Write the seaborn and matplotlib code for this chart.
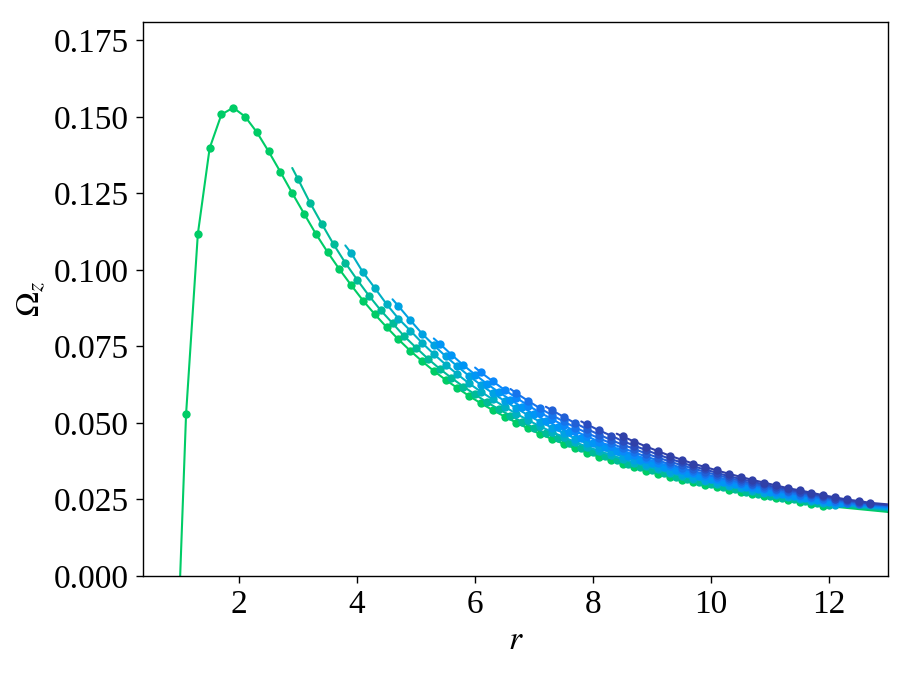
import numpy as np
import pandas as pd
import matplotlib
matplotlib.use("Agg")
import matplotlib.pyplot as plt
from matplotlib.ticker import FormatStrFormatter
import seaborn as sns

# ---------------- data ----------------
curve_names = ["c1", "c2", "c3", "c4", "c5", "c6", "c7", "c8", "c9", "c10"]
r_start = [1.0, 2.9, 3.8, 4.6, 5.3, 6.0, 6.6, 7.2, 7.8, 8.4]
omega_start = [0.0, 0.1333, 0.1080, 0.0904, 0.0776, 0.0681, 0.0611, 0.0553, 0.0505, 0.0465]
r_first = [1.1, 3.0, 3.9, 4.7, 5.4, 6.1, 6.7, 7.3, 7.9, 8.5]
dr = 0.2
r_end = 13.6
omega_end = [0.0198, 0.0203, 0.0206, 0.0208, 0.0211, 0.0215, 0.0217, 0.0220, 0.0222, 0.0224]

omega_c1 = [0.0528, 0.1118, 0.1398, 0.1508, 0.1530, 0.1501, 0.1450, 0.1387, 0.1320, 0.1251,
            0.1184, 0.1118, 0.1058, 0.1002, 0.0950, 0.0900, 0.0855, 0.0813, 0.0773, 0.0736,
            0.0702, 0.0670, 0.0641, 0.0614, 0.0588, 0.0564, 0.0542, 0.0521, 0.0501, 0.0482,
            0.0464, 0.0448, 0.0432, 0.0417, 0.0403, 0.0390, 0.0378, 0.0366, 0.0355, 0.0344,
            0.0334, 0.0324, 0.0315, 0.0306, 0.0298, 0.0290, 0.0282, 0.0275, 0.0268, 0.0261,
            0.0254, 0.0248, 0.0242, 0.0236, 0.0230]
omega_c2 = [0.1296, 0.1220, 0.1151, 0.1084, 0.1023, 0.0968, 0.0916, 0.0868, 0.0826, 0.0783,
            0.0746, 0.0710, 0.0677, 0.0647, 0.0619, 0.0593, 0.0568, 0.0545, 0.0524, 0.0503,
            0.0484, 0.0466, 0.0450, 0.0433, 0.0419, 0.0404, 0.0392, 0.0379, 0.0367, 0.0356,
            0.0345, 0.0335, 0.0325, 0.0316, 0.0308, 0.0300, 0.0291, 0.0283, 0.0276, 0.0269,
            0.0262, 0.0256, 0.0250, 0.0244, 0.0238, 0.0232]
omega_c3 = [0.1055, 0.0992, 0.0941, 0.0888, 0.0841, 0.0802, 0.0762, 0.0725, 0.0691, 0.0659,
            0.0629, 0.0602, 0.0577, 0.0553, 0.0530, 0.0509, 0.0489, 0.0471, 0.0454, 0.0437,
            0.0422, 0.0408, 0.0395, 0.0382, 0.0370, 0.0358, 0.0348, 0.0337, 0.0327, 0.0318,
            0.0310, 0.0301, 0.0293, 0.0286, 0.0278, 0.0271, 0.0264, 0.0257, 0.0251, 0.0245,
            0.0239, 0.0233]
omega_c4 = [0.0882, 0.0836, 0.0792, 0.0754, 0.0718, 0.0685, 0.0653, 0.0624, 0.0597, 0.0572,
            0.0548, 0.0525, 0.0504, 0.0485, 0.0467, 0.0449, 0.0433, 0.0418, 0.0404, 0.0391,
            0.0379, 0.0366, 0.0355, 0.0344, 0.0334, 0.0324, 0.0315, 0.0307, 0.0298, 0.0290,
            0.0283, 0.0276, 0.0268, 0.0262, 0.0255, 0.0249, 0.0243, 0.0236]
omega_c5 = [0.0759, 0.0723, 0.0689, 0.0658, 0.0628, 0.0601, 0.0576, 0.0551, 0.0529, 0.0508,
            0.0488, 0.0469, 0.0452, 0.0435, 0.0421, 0.0407, 0.0393, 0.0380, 0.0368, 0.0356,
            0.0345, 0.0335, 0.0326, 0.0316, 0.0307, 0.0299, 0.0291, 0.0283, 0.0275, 0.0269,
            0.0262, 0.0256, 0.0249, 0.0243, 0.0237]
omega_c6 = [0.0665, 0.0636, 0.0608, 0.0582, 0.0557, 0.0534, 0.0513, 0.0492, 0.0473, 0.0456,
            0.0439, 0.0424, 0.0409, 0.0396, 0.0382, 0.0370, 0.0358, 0.0347, 0.0337, 0.0327,
            0.0318, 0.0308, 0.0300, 0.0292, 0.0284, 0.0276, 0.0269, 0.0263, 0.0256, 0.0249,
            0.0243, 0.0237]
omega_c7 = [0.0597, 0.0572, 0.0548, 0.0526, 0.0505, 0.0485, 0.0467, 0.0450, 0.0434, 0.0418,
            0.0404, 0.0390, 0.0378, 0.0365, 0.0354, 0.0343, 0.0333, 0.0323, 0.0314, 0.0305,
            0.0297, 0.0289, 0.0280, 0.0273, 0.0266, 0.0259, 0.0253, 0.0246, 0.0240, 0.0235]
omega_c8 = [0.0542, 0.0520, 0.0499, 0.0480, 0.0462, 0.0445, 0.0429, 0.0415, 0.0400, 0.0387,
            0.0374, 0.0362, 0.0351, 0.0340, 0.0330, 0.0320, 0.0311, 0.0302, 0.0294, 0.0285,
            0.0278, 0.0271, 0.0264, 0.0257, 0.0250, 0.0244, 0.0239]
omega_c9 = [0.0495, 0.0476, 0.0459, 0.0441, 0.0426, 0.0411, 0.0397, 0.0383, 0.0371, 0.0358,
            0.0348, 0.0337, 0.0326, 0.0317, 0.0308, 0.0299, 0.0290, 0.0283, 0.0275, 0.0268,
            0.0261, 0.0253, 0.0247, 0.0242, 0.0236]
omega_c10 = [0.0456, 0.0439, 0.0423, 0.0408, 0.0393, 0.0380, 0.0367, 0.0356, 0.0345, 0.0334,
             0.0324, 0.0314, 0.0305, 0.0296, 0.0287, 0.0280, 0.0272, 0.0264, 0.0257, 0.0250,
             0.0245, 0.0239]
omega_markers = [omega_c1, omega_c2, omega_c3, omega_c4, omega_c5,
                 omega_c6, omega_c7, omega_c8, omega_c9, omega_c10]

colors = ["#00cc66", "#00bb99", "#00b0c4", "#00a2e2", "#0096f5",
          "#0a88fa", "#1674ec", "#2160d6", "#2a4cbe", "#3040a8"]

# ---------------- figure ----------------
sns.set_style("ticks")
plt.rcParams["font.family"] = ["Liberation Serif", "DejaVu Serif"]
plt.rcParams["mathtext.fontset"] = "stix"
plt.rcParams["text.color"] = "black"
plt.rcParams["axes.labelcolor"] = "black"
plt.rcParams["xtick.color"] = "black"
plt.rcParams["ytick.color"] = "black"

fig = plt.figure(figsize=(9.11, 6.76), dpi=100)
ax = fig.add_axes([143 / 911, 100 / 676, 745 / 911, 554 / 676])

for k, name in enumerate(curve_names):
    vals = omega_markers[k]
    n = len(vals)
    r_m = np.round(r_first[k] + dr * np.arange(n), 2)
    r_line = np.concatenate([[r_start[k]], r_m, [r_end]])
    om_line = np.concatenate([[omega_start[k]], vals, [omega_end[k]]])
    df = pd.DataFrame({"r": r_line, "omega": om_line})
    sns.lineplot(data=df, x="r", y="omega", ax=ax, color=colors[k],
                 linewidth=1.5, marker="o", markersize=6.0,
                 markeredgewidth=0, markeredgecolor=colors[k],
                 markevery=list(range(1, n + 1)),
                 estimator=None, sort=False, zorder=2 + k)

ax.set_xlim(0.37, 13.0)
ax.set_ylim(0.0, 0.181)
ax.set_xticks([2, 4, 6, 8, 10, 12])
ax.set_yticks([0.0, 0.025, 0.05, 0.075, 0.1, 0.125, 0.15, 0.175])
ax.yaxis.set_major_formatter(FormatStrFormatter("%.3f"))
ax.tick_params(axis="both", which="major", labelsize=24, length=5, width=1,
               direction="out", top=False, right=False, pad=5,
               colors="black", labelcolor="black")
for sp in ax.spines.values():
    sp.set_linewidth(1.0)
    sp.set_color("black")
    sp.set_visible(True)

ax.set_xlabel("$r$", fontsize=24, labelpad=4)
ax.set_ylabel(r"$\Omega_z$", fontsize=24, labelpad=5)

fig.savefig("out.png", dpi=100)
